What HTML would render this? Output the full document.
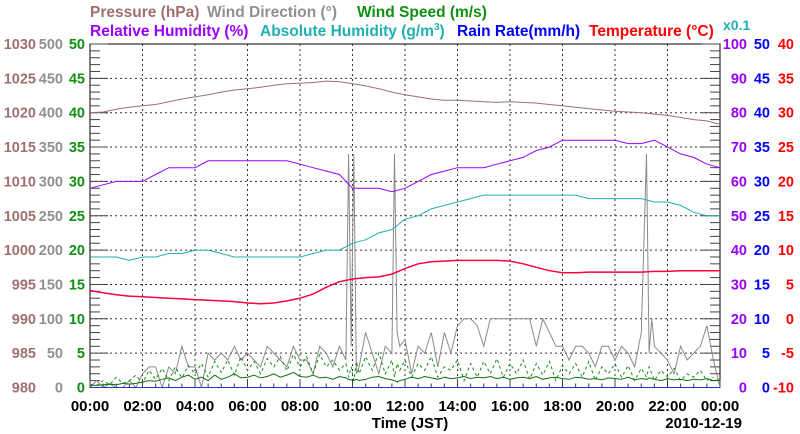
<!DOCTYPE html>
<html><head><meta charset="utf-8"><style>
body{margin:0;background:#fff}
svg{display:block;font-family:"Liberation Sans",sans-serif;font-weight:bold}
</style></head><body>
<svg id="chart" width="800" height="434" viewBox="0 0 800 434" xmlns="http://www.w3.org/2000/svg">
<g id="titles" font-size="15.5">
<text x="90" y="17" fill="#a07070">Pressure (hPa)</text>
<text x="207" y="17" fill="#909090">Wind Direction (°)</text>
<text x="357" y="17" fill="#109010">Wind Speed (m/s)</text>
<text x="90" y="36" fill="#9900ff">Relative Humidity (%)</text>
<text x="260" y="36" fill="#20b0b0">Absolute Humidity (g/m<tspan font-size="10" dy="-6">3</tspan><tspan dy="6">)</tspan></text>
<text x="457" y="36" fill="#0000ff">Rain Rate(mm/h)</text>
<text x="589" y="36" fill="#ff0000">Temperature (°C)</text>
<text x="723" y="30" fill="#20b0b0" font-size="14">x0.1</text>
<text x="410" y="428" text-anchor="middle" fill="#000" font-size="15">Time (JST)</text>
<text x="742" y="428" text-anchor="end" fill="#000" font-size="15">2010-12-19</text>
</g>
<g id="grid"></g><g id="axes"></g><g id="series"></g>
</svg>
<script>
const hours=[0,0.5,1,1.5,2,2.5,3,3.5,4,4.5,5,5.5,6,6.5,7,7.5,8,8.5,9,9.5,10,10.5,11,11.5,12,12.5,13,13.5,14,14.5,15,15.5,16,16.5,17,17.5,18,18.5,19,19.5,20,20.5,21,21.5,22,22.5,23,23.5,24];
const pressure=[1020,1020.1,1020.5,1020.8,1021,1021.2,1021.6,1022,1022.3,1022.6,1023,1023.3,1023.5,1023.7,1024,1024.2,1024.3,1024.4,1024.6,1024.5,1024.2,1023.9,1023.5,1023,1022.6,1022.3,1022,1021.8,1021.8,1021.7,1021.6,1021.5,1021.6,1021.5,1021.4,1021.2,1021,1020.8,1020.6,1020.4,1020.2,1020.1,1020,1019.8,1019.6,1019.3,1019,1018.8,1018.3];
const humidity=[58,59,60,60,60,62,64,64,64,66,66,66,66,66,66,66,65,64,63,62,58,58,58,57,58,60,62,63,64,64,64,65,66,67,69,70,72,72,72,72,72,71,71,72,70,68,67,65,64];
const absHumidity=[3.8,3.8,3.8,3.7,3.8,3.8,3.9,3.9,4.0,4.0,3.9,3.8,3.8,3.8,3.8,3.8,3.8,3.9,4.0,4.0,4.2,4.3,4.5,4.6,4.9,5.0,5.2,5.3,5.4,5.5,5.6,5.6,5.6,5.6,5.6,5.6,5.6,5.6,5.5,5.5,5.5,5.5,5.5,5.4,5.4,5.3,5.1,5.0,5.0];
const rainRate=[0,0,0,0,0,0,0,0,0,0,0,0,0,0,0,0,0,0,0,0,0,0,0,0,0,0,0,0,0,0,0,0,0,0,0,0,0,0,0,0,0,0,0,0,0,0,0,0,0];
const temperature=[4.1,3.8,3.5,3.3,3.2,3.1,3.0,2.9,2.8,2.7,2.6,2.5,2.3,2.2,2.3,2.6,3.0,3.6,4.6,5.4,5.8,6.0,6.1,6.5,7.3,8.0,8.3,8.4,8.5,8.5,8.5,8.5,8.4,8.0,7.5,7.0,6.7,6.7,6.8,6.8,6.8,6.8,6.8,6.9,6.9,7.0,7.0,7.0,7.0];
const windHours=[0,0.25,0.5,0.75,1,1.25,1.5,1.75,2,2.25,2.5,2.75,3,3.25,3.5,3.75,4,4.25,4.5,4.75,5,5.25,5.5,5.75,6,6.25,6.5,6.75,7,7.25,7.5,7.75,8,8.25,8.5,8.75,9,9.25,9.5,9.75,9.85,9.95,10.05,10.15,10.25,10.5,10.75,11,11.25,11.5,11.6,11.7,11.8,12,12.25,12.5,12.75,13,13.25,13.5,13.75,14,14.25,14.5,14.75,15,15.25,15.5,15.75,16,16.25,16.5,16.75,17,17.25,17.5,17.75,18,18.25,18.5,18.75,19,19.25,19.5,19.75,20,20.25,20.5,20.75,21,21.2,21.3,21.4,21.5,21.75,22,22.25,22.5,22.75,23,23.25,23.5,23.75,24];
const windDir=[0,10,0,5,0,0,10,0,20,30,30,0,30,20,60,30,30,0,50,40,50,40,60,40,50,40,30,60,50,40,30,60,40,40,20,60,50,30,60,40,340,60,340,20,30,80,50,20,60,50,340,80,60,70,20,60,50,80,30,80,50,90,100,100,90,60,100,100,100,100,100,100,100,60,100,80,60,60,40,60,60,50,30,60,60,40,60,50,30,80,340,50,100,60,50,40,20,60,40,50,60,90,40,0];
const windSpeed=[0.5,0.3,1.0,0.4,1.5,0.6,1.0,1.8,0.6,2.5,1.2,2.8,1.0,3.0,1.4,3.2,2.0,3.5,1.5,3.8,2.2,4.0,1.8,4.5,2.5,3.8,2.0,4.2,3.0,4.5,2.4,4.8,3.0,4.5,2.0,4.8,3.0,4.0,2.5,3.5,1.5,3.0,1.0,3.8,2.0,4.5,2.5,5.0,2.0,4.0,1.5,3.5,2.5,4.0,1.5,3.5,2.5,4.5,1.5,3.0,2.5,4.0,1.0,3.5,1.5,3.8,2.0,4.2,1.5,3.5,2.0,4.0,1.2,3.5,1.8,3.8,1.0,3.2,2.0,3.5,1.5,3.8,1.0,3.0,2.0,3.5,1.5,3.2,1.0,2.8,1.5,3.0,2.0,1.0,2.5,1.5,2.8,1.0,2.0,1.5,2.5,1.0,1.5];
const windSpeedAvg=[0.3,0.3,0.4,0.5,0.4,0.6,0.5,0.6,0.8,1.0,0.9,1.2,1.4,1.0,1.5,1.8,1.2,1.5,1.0,1.8,1.2,1.5,2.0,1.4,1.5,1.8,1.4,1.6,2.0,1.5,1.8,2.2,1.6,1.5,1.8,1.4,1.5,1.2,1.6,1.4,1.2,1.1,1.0,1.2,1.0,1.2,1.5,1.6,1.3,1.1,1.0,0.8,1.0,1.2,1.5,1.3,1.6,1.4,1.2,1.5,1.3,1.4,1.6,1.3,1.5,1.4,1.6,1.3,1.5,1.2,1.4,1.5,1.3,1.6,1.2,1.4,1.5,1.3,1.2,1.5,1.4,1.2,1.3,1.1,1.4,1.3,1.2,1.5,1.1,1.3,1.2,1.4,1.3,1.2,1.0,1.3,1.1,1.2,1.0,1.2,1.1,1.3,1.0,1.1];
const xTicks=["00:00","02:00","04:00","06:00","08:00","10:00","12:00","14:00","16:00","18:00","20:00","22:00","00:00"];
const pTicks=[980,985,990,995,1000,1005,1010,1015,1020,1025,1030];
const wdTicks=[0,50,100,150,200,250,300,350,400,450,500];
const wsTicks=[0,5,10,15,20,25,30,35,40,45,50];
const rhTicks=[0,10,20,30,40,50,60,70,80,90,100];
const rrTicks=[0,5,10,15,20,25,30,35,40,45,50];
const tTicks=[-10,-5,0,5,10,15,20,25,30,35,40];

const X0=90,X1=720,Y0=387.5,Y1=44;
const NS="http://www.w3.org/2000/svg";
const xs=h=>X0+(X1-X0)*h/24;
const yLin=(v,lo,hi)=>Y0-(Y0-Y1)*(v-lo)/(hi-lo);
const yP=v=>yLin(v,980,1030), yWD=v=>yLin(v,0,500), yWS=v=>yLin(v,0,50),
      yRH=v=>yLin(v,0,100), yAH=v=>yLin(v*10,0,100), yRR=v=>yLin(v,0,50), yT=v=>yLin(v,-10,40);
function mk(tag,attrs,parent){const e=document.createElementNS(NS,tag);for(const k in attrs)e.setAttribute(k,attrs[k]);parent.appendChild(e);return e;}
const grid=document.getElementById('grid'),axes=document.getElementById('axes'),ser=document.getElementById('series');
mk('rect',{x:X0,y:Y1,width:X1-X0,height:Y0-Y1,fill:'#fff',stroke:'#000','stroke-width':1},grid);
for(let i=1;i<xTicks.length-1;i++){const l=mk('line',{x1:xs(i*2),x2:xs(i*2),y1:Y1,y2:Y0,stroke:'#333','stroke-dasharray':'2,3'},grid);

}
for(let i=1;i<pTicks.length-1;i++){const y=yP(pTicks[i]);const l=mk('line',{x1:X0,x2:X1,y1:y,y2:y,stroke:'#333','stroke-dasharray':'2,3'},grid);

}
for(let i=0;i<=50;i++){const y=Y0-(Y0-Y1)*i/50;const L=(i%5==0)?18:10;
mk('line',{x1:X0,x2:X0+L,y1:y,y2:y,stroke:'#444'},axes);mk('line',{x1:X1-L,x2:X1,y1:y,y2:y,stroke:'#444'},axes);}
for(let i=0;i<=48;i++){const x=xs(i/2);mk('line',{x1:x,x2:x,y1:Y0,y2:Y0-(i%4==0?8:4),stroke:'#444'},axes);}
function label(txt,x,y,col,anchor,name,size){const t=mk('text',{x:x,y:y,fill:col,'text-anchor':anchor,'font-size':size||14.5},axes);t.textContent=txt;

}
pTicks.forEach(v=>label(v,36,yP(v)+5,'#a07070','end','pressure-tick'));
wdTicks.forEach(v=>label(v,63,yWD(v)+5,'#909090','end','wind-direction-tick'));
wsTicks.forEach(v=>label(v,85,yWS(v)+5,'#109010','end','wind-speed-tick'));
rhTicks.forEach(v=>label(v,747,yRH(v)+5,'#9900ff','end','humidity-tick'));
rrTicks.forEach(v=>label(v,770,yRR(v)+5,'#0000ff','end','rain-rate-tick'));
tTicks.forEach(v=>label(v,794,yT(v)+5,'#ff0000','end','temperature-tick'));
xTicks.forEach((v,i)=>label(v,xs(i*2),411,'#000','middle','x-tick',15));
function line(xsArr,vals,yf,col,name,dash,w){const d=vals.map((v,i)=>(i?'L':'M')+xs(xsArr[i]).toFixed(1)+','+yf(v).toFixed(1)).join('');
const p=mk('path',{d:d,fill:'none',stroke:col,'stroke-width':w||1,'stroke-dasharray':dash||'none'},ser);

}
line(windHours,windDir,yWD,'#8a8a8a','wind-direction-line');
line(windHours,windSpeed,yWS,'#109010','wind-speed-gust-line','3,3');
line(windHours,windSpeedAvg,yWS,'#107010','wind-speed-line');
line(hours,rainRate,yRR,'#3030c0','rain-rate-line');
line(hours,pressure,yP,'#a07070','pressure-line');
line(hours,humidity,yRH,'#9900ff','humidity-line');
line(hours,absHumidity,yAH,'#20b0b0','absolute-humidity-line');
line(hours,temperature,yT,'#ff0040','temperature-line',null,1.5);
</script>
</body></html>
